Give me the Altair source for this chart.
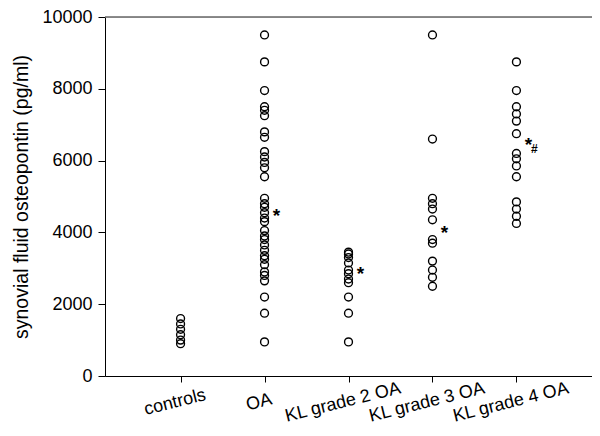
import altair as alt
import pandas as pd

categories = ["controls", "OA", "KL grade 2 OA", "KL grade 3 OA", "KL grade 4 OA"]

controls = [1600, 1450, 1300, 1150, 1000, 900]
oa = [9500, 8750, 7950, 7500, 7400, 7250, 6800, 6650, 6250, 6100, 5950, 5800, 5550,
      4950, 4800, 4700, 4550, 4400, 4300, 4050, 3900, 3800, 3650, 3500, 3350, 3250,
      3100, 2900, 2800, 2650, 2200, 1750, 950]
kl2 = [3450, 3400, 3300, 3150, 2950, 2850, 2700, 2600, 2200, 1750, 950]
kl3 = [9500, 6600, 4950, 4800, 4650, 4350, 3800, 3700, 3200, 2950, 2750, 2500]
kl4 = [8750, 7950, 7500, 7300, 7100, 6750, 6200, 6050, 5850, 5550, 4850, 4650, 4450, 4250]

star_groups = ["OA", "KL grade 2 OA", "KL grade 3 OA", "KL grade 4 OA"]
star_values = [4600, 2970, 4110, 6570]
hash_groups = ["KL grade 4 OA"]
hash_values = [6360]

y_ticks = [0, 2000, 4000, 6000, 8000, 10000]
y_title = "synovial fluid osteopontin (pg/ml)"

rows = []
for cat, vals in zip(categories, [controls, oa, kl2, kl3, kl4]):
    for v in vals:
        rows.append({"group": cat, "value": v})
df = pd.DataFrame(rows)
stars = pd.DataFrame({"group": star_groups, "value": star_values, "label": ["*"] * len(star_groups)})
hashes = pd.DataFrame({"group": hash_groups, "value": hash_values, "label": ["#"] * len(hash_groups)})
top = pd.DataFrame({"value": [y_ticks[-1]]})

FONT = "Liberation Sans"

x_enc = alt.X("group:N", sort=categories,
              scale=alt.Scale(type="point", padding=0.9, domain=categories),
              axis=alt.Axis(title=None, labelAngle=-14, labelAlign="center", labelBaseline="middle",
                            labelPadding=20, labelOffset=-6, labelFontSize=18, labelFont=FONT,
                            labelColor="black", tickSize=6, tickColor="black",
                            domainColor="black", labelOverlap=False, grid=False))
y_scale = alt.Scale(domain=[0, 10000], nice=False)
y_enc = alt.Y("value:Q", scale=y_scale,
              axis=alt.Axis(title=y_title, values=y_ticks, format="d", labelFontSize=18,
                            labelFont=FONT, labelColor="black", titleFont=FONT,
                            titleFontSize=19.5, titleFontWeight="normal", titleColor="black",
                            titlePadding=10, tickSize=7, tickColor="black",
                            domainColor="black", labelPadding=6, grid=False))

points = alt.Chart(df).mark_point(shape="circle", filled=False, color="black",
                                  strokeWidth=1.4, size=62, opacity=1).encode(x=x_enc, y=y_enc)

star_layer = alt.Chart(stars).mark_text(font=FONT, fontSize=19, fontWeight="bold", color="black",
                                        baseline="alphabetic", align="center", dx=12, dy=11).encode(
    x=alt.X("group:N", sort=categories), y=alt.Y("value:Q"), text="label:N")

hash_layer = alt.Chart(hashes).mark_text(font=FONT, fontSize=12, fontWeight="bold", color="black",
                                         baseline="alphabetic", align="center", dx=18, dy=5).encode(
    x=alt.X("group:N", sort=categories), y=alt.Y("value:Q"), text="label:N")

top_rule = alt.Chart(top).mark_rule(color="#666666", strokeWidth=1.5).encode(y=alt.Y("value:Q"))

chart = alt.layer(top_rule, points, star_layer, hash_layer).properties(
    width=487, height=359,
    autosize=alt.AutoSizeParams(type="none"),
    padding={"left": 97, "top": 9, "right": 0, "bottom": 52},
).configure_view(stroke=None).configure(background="white")

chart.save("out.html", embed_options={"renderer": "svg", "actions": False})
